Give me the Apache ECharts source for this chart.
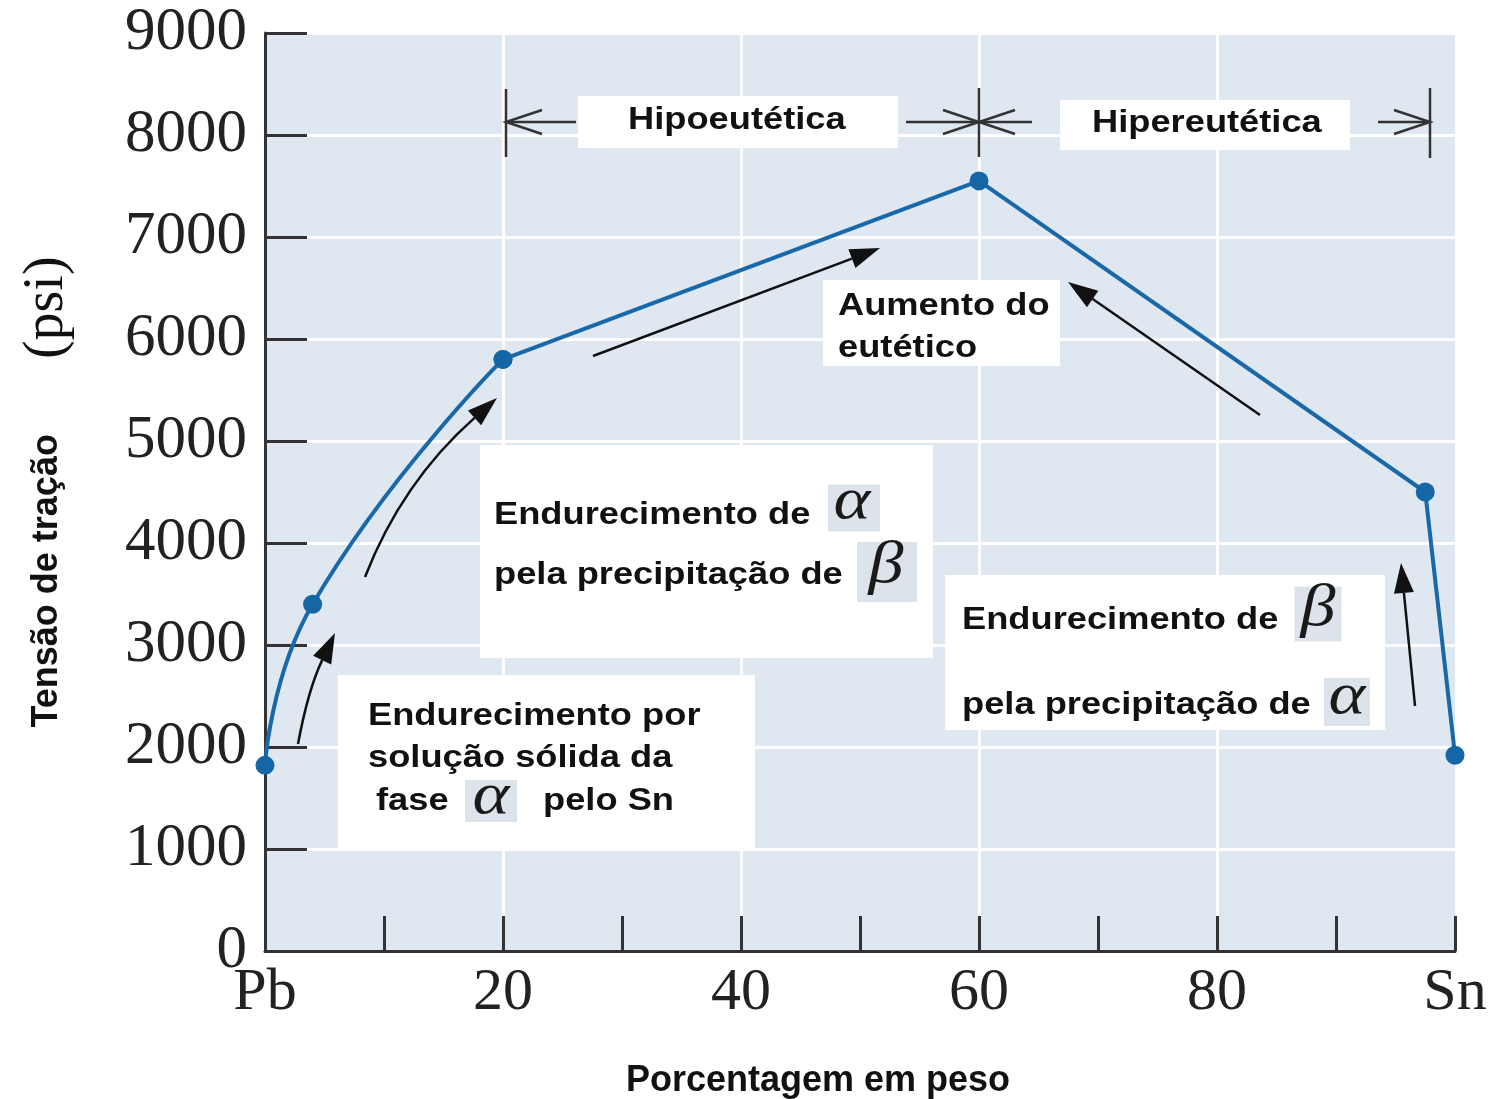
<!DOCTYPE html>
<html>
<head>
<meta charset="utf-8">
<title>Tensão de tração - ligas Pb-Sn</title>
<script src="https://cdn.jsdelivr.net/npm/echarts@6/dist/echarts.min.js"></script>
<style>
  html, body { margin: 0; padding: 0; background: #fff; }
  #chart { width: 1490px; height: 1099px; }
</style>
</head>
<body>
<div id="chart"></div>
<script>
// composição (% em peso de Sn) e tensão de tração (psi)
var composicao = [0, 4, 20, 60, 97.5, 100];
var tensao = [1820, 3400, 5800, 7550, 4500, 1920];
// rótulos do eixo x (só nos múltiplos de 20)
var xTickLabels = { 0: 'Pb', 20: '20', 40: '40', 60: '60', 80: '80', 100: 'Sn' };

var pares = composicao.map(function (x, i) { return [x, tensao[i]]; });
var trechoCurvo = pares.slice(0, 3);   // Pb -> 20 % é uma curva
var trechoReto = pares.slice(2);       // 20 % -> Sn em retas

var SANS = '"Liberation Sans", Arial, sans-serif';
var SERIF = '"Liberation Serif", "Times New Roman", serif';
var STRETCH = 1.17;   // o texto do original é um pouco esticado na horizontal
var INK = '#222';

// ---- ajudantes para as anotações ----
function caixa(x, y, w, h) {
  return { type: 'rect', z: 50, shape: { x: x, y: y, width: w, height: h }, style: { fill: '#fff' } };
}
function texto(x, y, s) {
  return {
    type: 'text', z: 52, x: x, y: y, scaleX: STRETCH,
    style: { text: s, font: 'bold 31px ' + SANS, fill: '#111', align: 'left', verticalAlign: 'middle' }
  };
}
function grego(cx, cy, w, h, ch, tx, ty) {
  return [
    { type: 'rect', z: 51, shape: { x: cx - w / 2, y: cy - h / 2, width: w, height: h }, style: { fill: '#dde3ea' } },
    {
      type: 'text', z: 52, x: tx, y: ty, scaleX: STRETCH,
      style: { text: ch, font: 'italic 60px ' + SERIF, fill: '#1a1a1a', align: 'center', verticalAlign: 'middle' }
    }
  ];
}
// seta com ponta cheia; c = ponto de controle opcional (curva)
function seta(x0, y0, x1, y1, c) {
  var dx = c ? x1 - c[0] : x1 - x0;
  var dy = c ? y1 - c[1] : y1 - y0;
  var len = Math.sqrt(dx * dx + dy * dy);
  dx /= len; dy /= len;
  var L = 30, W = 10;
  var bx = x1 - dx * L, by = y1 - dy * L;
  var haste = c
    ? { type: 'bezierCurve', z: 53, shape: { x1: x0, y1: y0, cpx1: c[0], cpy1: c[1], x2: bx, y2: by },
        style: { stroke: '#111', lineWidth: 2.5, fill: null } }
    : { type: 'line', z: 53, shape: { x1: x0, y1: y0, x2: bx, y2: by }, style: { stroke: '#111', lineWidth: 2.5 } };
  var ponta = {
    type: 'polygon', z: 53,
    shape: { points: [[x1, y1], [bx - dy * W, by + dx * W], [bx + dy * W, by - dx * W]] },
    style: { fill: '#111' }
  };
  return [haste, ponta];
}
// seta aberta horizontal (faixas hipo/hipereutética)
function setaAberta(xa, xb, y, dir) {
  var tip = dir > 0 ? xb : xa;
  var back = tip - dir * 36;
  return [
    { type: 'line', z: 53, shape: { x1: xa, y1: y, x2: xb, y2: y }, style: { stroke: '#333', lineWidth: 2.5 } },
    { type: 'polyline', z: 53, shape: { points: [[back, y - 12], [tip, y], [back, y + 12]] },
      style: { stroke: '#333', lineWidth: 2.5, fill: null } }
  ];
}
function barra(x, y0, y1) {
  return { type: 'line', z: 53, shape: { x1: x, y1: y0, x2: x, y2: y1 }, style: { stroke: '#333', lineWidth: 2.5 } };
}

var anotacoes = [].concat(
  // faixas no topo
  barra(506, 89, 157), barra(979, 88, 157), barra(1430, 88, 158),
  setaAberta(506, 576, 122, -1), setaAberta(906, 979, 122, 1),
  setaAberta(979, 1032, 122, -1), setaAberta(1378, 1430, 122, 1),
  caixa(578, 96, 320, 52), texto(628, 120, 'Hipoeutética'),
  caixa(1060, 100, 290, 50), texto(1092, 123, 'Hipereutética'),
  // aumento do eutético
  caixa(823, 280, 237, 86), texto(838, 306, 'Aumento do'), texto(838, 348, 'eutético'),
  // endurecimento de alfa por beta
  caixa(480, 445, 453, 213),
  texto(494, 515, 'Endurecimento de'), grego(854, 508, 52, 47, 'α', 852, 502),
  texto(494, 575, 'pela precipitação de'), grego(887, 572, 60, 60, 'β', 886, 566),
  // endurecimento de beta por alfa
  caixa(945, 575, 440, 155),
  texto(962, 620, 'Endurecimento de'), grego(1318, 614, 47, 55, 'β', 1318, 609),
  texto(962, 705, 'pela precipitação de'), grego(1347, 702, 46, 48, 'α', 1347, 697),
  // solução sólida
  caixa(338, 675, 417, 175),
  texto(368, 716, 'Endurecimento por'), texto(368, 758, 'solução sólida da'),
  texto(376, 801, 'fase'), grego(491, 801, 52, 42, 'α', 491, 797), texto(543, 801, 'pelo Sn'),
  // setas
  seta(298, 744, 335, 633, [308, 690]),
  seta(365, 577, 497, 398, [402, 482]),
  seta(593, 356, 880, 248),
  seta(1260, 415, 1068, 282),
  seta(1415, 706, 1401, 563)
);

var chart = echarts.init(document.getElementById('chart'), null, { renderer: 'canvas' });

var serieBase = {
  type: 'line',
  symbol: 'circle',
  symbolSize: 19,
  lineStyle: { color: '#1a68a8', width: 4 },
  itemStyle: { color: '#1566a6' },
  z: 10
};

var option = {
  animation: false,
  backgroundColor: '#fff',
  grid: {
    left: 265, right: 35, top: 33, bottom: 148,
    containLabel: false, outerBoundsMode: 'none',
    show: true, backgroundColor: '#dfe7f1', borderWidth: 0
  },
  xAxis: [
    {
      type: 'value', min: 0, max: 100, interval: 10,
      name: 'Porcentagem em peso', nameLocation: 'middle', nameGap: 112,
      nameTextStyle: { fontFamily: SANS, fontWeight: 'bold', fontSize: 36, color: '#111', padding: [0, 84, 0, 0] },
      axisLine: { show: true, onZero: false, lineStyle: { color: '#333', width: 3 } },
      axisTick: { show: true, inside: true, length: 35, lineStyle: { color: '#333', width: 3 } },
      axisLabel: {
        showMinLabel: true, showMaxLabel: true,
        formatter: function (v) { return xTickLabels[v] || ''; },
        fontFamily: SERIF, fontSize: 60, color: INK, margin: 12
      },
      splitLine: { show: false }
    },
    {
      // eixo só para as linhas verticais brancas de 20 em 20
      type: 'value', min: 0, max: 100, interval: 20, position: 'bottom',
      axisLine: { show: false }, axisTick: { show: false }, axisLabel: { show: false },
      splitLine: { show: true, showMinLine: false, showMaxLine: false, lineStyle: { color: '#fff', width: 3 } }
    }
  ],
  yAxis: {
    type: 'value', min: 0, max: 9000, interval: 1000,
    name: '{a|Tensão de tração}{b|(psi)}', nameLocation: 'middle', nameGap: 190,
    nameTextStyle: {
      rich: {
        a: { fontFamily: SANS, fontWeight: 'bold', fontSize: 36, color: '#111', verticalAlign: 'middle' },
        b: { fontFamily: SERIF, fontSize: 56, color: '#111', verticalAlign: 'middle', padding: [0, 0, 0, 75] }
      }
    },
    axisLine: { show: true, lineStyle: { color: '#333', width: 3 } },
    axisTick: { show: true, inside: true, length: 42, lineStyle: { color: '#333', width: 3 } },
    axisLabel: {
      formatter: function (v) { return String(v); },
      fontFamily: SERIF, fontSize: 61, color: INK, margin: 18
    },
    splitLine: { show: true, lineStyle: { color: '#fff', width: 3 } }
  },
  series: [
    Object.assign({}, serieBase, { name: 'Pb-20', data: trechoCurvo, smooth: 0.5 }),
    Object.assign({}, serieBase, { name: '20-Sn', data: trechoReto, smooth: false })
  ],
  graphic: anotacoes
};

chart.setOption(option);
</script>
</body>
</html>
